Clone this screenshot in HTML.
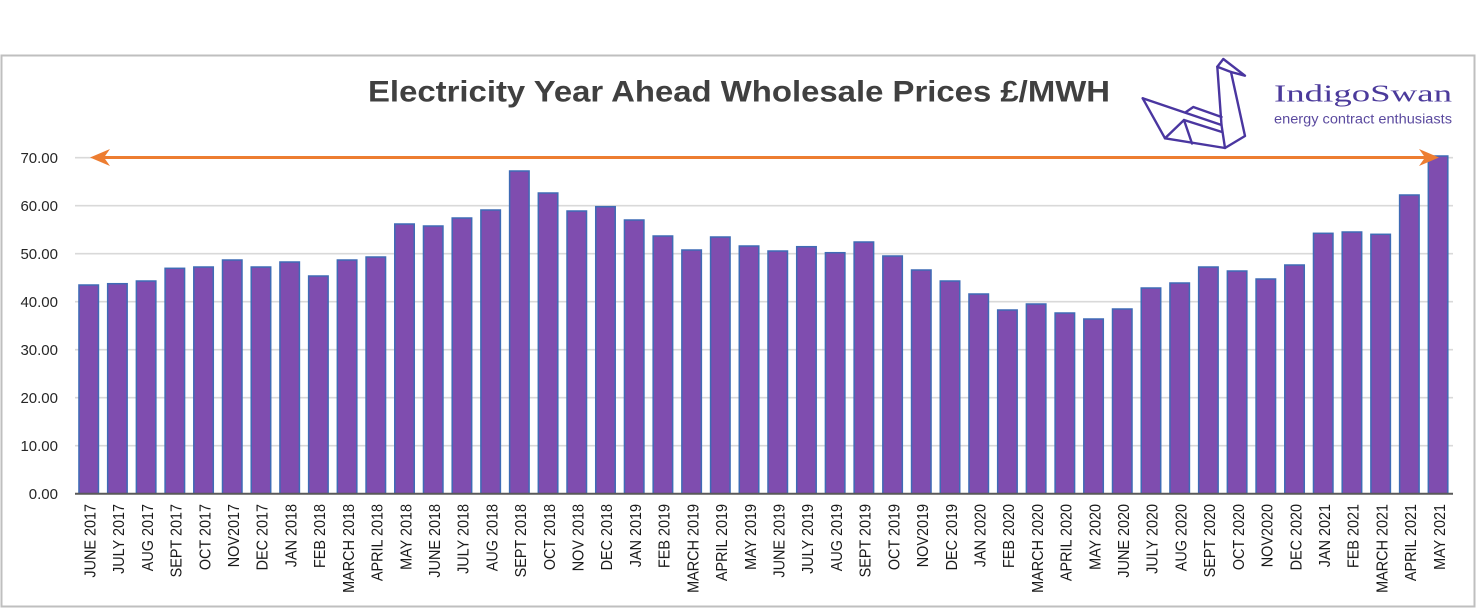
<!DOCTYPE html>
<html>
<head>
<meta charset="utf-8">
<style>
html,body{margin:0;padding:0;background:#fff;}
svg{display:block;}
</style>
</head>
<body>
<svg width="1477" height="610" viewBox="0 0 1477 610" xmlns="http://www.w3.org/2000/svg" font-family="Liberation Sans, Arial, sans-serif">
<rect x="0" y="0" width="1477" height="610" fill="#fff"/>
<rect x="1.5" y="55.5" width="1473" height="551" fill="#fff" stroke="#bfbfbf" stroke-width="2"/>

<!-- title -->
<text x="368" y="101.7" font-size="30" font-weight="bold" fill="#404040" textLength="742" lengthAdjust="spacingAndGlyphs">Electricity Year Ahead Wholesale Prices £/MWH</text>

<!-- logo -->
<g fill="none" stroke="#4A36A0" stroke-width="2.4" stroke-linejoin="round" stroke-linecap="round">
<path d="M1142.7,98.3 L1165,138.3 L1225,148 L1245,136 L1231,72"/>
<path d="M1217.3,66.7 L1223.3,59 L1245,75.7 L1231,72 Z"/>
<path d="M1217.3,66.7 L1221.5,125 L1225,148"/>
<path d="M1142.7,98.3 L1221.5,125"/>
<path d="M1165,138.3 L1184,120 L1192,143.5"/>
<path d="M1184,120 L1222,132"/>
<path d="M1186,112 L1193.3,107 L1221.5,117"/>
</g>
<text x="1274" y="101.7" font-family="Liberation Serif, serif" font-size="24" fill="#4B3A9B" textLength="178" lengthAdjust="spacingAndGlyphs">IndigoSwan</text>
<text x="1274" y="123.5" font-size="13.5" fill="#5B4A9F" textLength="178" lengthAdjust="spacingAndGlyphs">energy contract enthusiasts</text>

<!-- gridlines -->
<g stroke="#d9d9d9" stroke-width="1.6">
<line x1="75" x2="1453" y1="157.7" y2="157.7"/>
<line x1="75" x2="1453" y1="205.7" y2="205.7"/>
<line x1="75" x2="1453" y1="253.7" y2="253.7"/>
<line x1="75" x2="1453" y1="301.7" y2="301.7"/>
<line x1="75" x2="1453" y1="349.7" y2="349.7"/>
<line x1="75" x2="1453" y1="397.7" y2="397.7"/>
<line x1="75" x2="1453" y1="445.7" y2="445.7"/>
</g>

<!-- y labels -->
<g font-size="15" fill="#262626" text-anchor="end">
<text x="58" y="163">70.00</text>
<text x="58" y="211">60.00</text>
<text x="58" y="259">50.00</text>
<text x="58" y="307">40.00</text>
<text x="58" y="355">30.00</text>
<text x="58" y="403">20.00</text>
<text x="58" y="451">10.00</text>
<text x="58" y="499">0.00</text>
</g>

<!-- bars -->
<g fill="#7F4DAF" stroke="#3F6BB5" stroke-width="1.5">
<rect x="78.95" y="285" width="19.5" height="208.7"/>
<rect x="107.66" y="283.7" width="19.5" height="210"/>
<rect x="136.37" y="281" width="19.5" height="212.7"/>
<rect x="165.08" y="268.3" width="19.5" height="225.4"/>
<rect x="193.79" y="267" width="19.5" height="226.7"/>
<rect x="222.5" y="260" width="19.5" height="233.7"/>
<rect x="251.21" y="267" width="19.5" height="226.7"/>
<rect x="279.92" y="262" width="19.5" height="231.7"/>
<rect x="308.63" y="276" width="19.5" height="217.7"/>
<rect x="337.34" y="260" width="19.5" height="233.7"/>
<rect x="366.05" y="257" width="19.5" height="236.7"/>
<rect x="394.76" y="224" width="19.5" height="269.7"/>
<rect x="423.47" y="226" width="19.5" height="267.7"/>
<rect x="452.18" y="218" width="19.5" height="275.7"/>
<rect x="480.89" y="210" width="19.5" height="283.7"/>
<rect x="509.6" y="171" width="19.5" height="322.7"/>
<rect x="538.31" y="193" width="19.5" height="300.7"/>
<rect x="567.02" y="211" width="19.5" height="282.7"/>
<rect x="595.73" y="206.7" width="19.5" height="287"/>
<rect x="624.44" y="220" width="19.5" height="273.7"/>
<rect x="653.15" y="236" width="19.5" height="257.7"/>
<rect x="681.86" y="250" width="19.5" height="243.7"/>
<rect x="710.57" y="237" width="19.5" height="256.7"/>
<rect x="739.28" y="246" width="19.5" height="247.7"/>
<rect x="767.99" y="251" width="19.5" height="242.7"/>
<rect x="796.7" y="246.7" width="19.5" height="247"/>
<rect x="825.41" y="252.7" width="19.5" height="241"/>
<rect x="854.12" y="242" width="19.5" height="251.7"/>
<rect x="882.83" y="256" width="19.5" height="237.7"/>
<rect x="911.54" y="270" width="19.5" height="223.7"/>
<rect x="940.25" y="281" width="19.5" height="212.7"/>
<rect x="968.96" y="294" width="19.5" height="199.7"/>
<rect x="997.67" y="310" width="19.5" height="183.7"/>
<rect x="1026.38" y="304" width="19.5" height="189.7"/>
<rect x="1055.09" y="313" width="19.5" height="180.7"/>
<rect x="1083.8" y="319" width="19.5" height="174.7"/>
<rect x="1112.51" y="309" width="19.5" height="184.7"/>
<rect x="1141.22" y="288" width="19.5" height="205.7"/>
<rect x="1169.93" y="283" width="19.5" height="210.7"/>
<rect x="1198.64" y="267" width="19.5" height="226.7"/>
<rect x="1227.35" y="271" width="19.5" height="222.7"/>
<rect x="1256.06" y="279" width="19.5" height="214.7"/>
<rect x="1284.77" y="265" width="19.5" height="228.7"/>
<rect x="1313.48" y="233.3" width="19.5" height="260.4"/>
<rect x="1342.19" y="232" width="19.5" height="261.7"/>
<rect x="1370.9" y="234.3" width="19.5" height="259.4"/>
<rect x="1399.61" y="195" width="19.5" height="298.7"/>
<rect x="1428.32" y="156" width="19.5" height="337.7"/>
</g>

<!-- axis line -->
<line x1="75" x2="1453" y1="493.7" y2="493.7" stroke="#595959" stroke-width="2"/>

<!-- arrow -->
<line x1="100" x2="1428" y1="157.5" y2="157.5" stroke="#ED7D31" stroke-width="3"/>
<polygon points="90,157.5 110,149 104,157.5 110,166" fill="#ED7D31"/>
<polygon points="1439,157.5 1419,149 1425,157.5 1419,166" fill="#ED7D31"/>

<!-- x labels -->
<g font-size="16" fill="#1a1a1a" text-anchor="end">
<text transform="translate(95.45,504) rotate(-90) scale(0.9,1)">JUNE 2017</text>
<text transform="translate(124.16,504) rotate(-90) scale(0.9,1)">JULY 2017</text>
<text transform="translate(152.87,504) rotate(-90) scale(0.9,1)">AUG 2017</text>
<text transform="translate(181.58,504) rotate(-90) scale(0.9,1)">SEPT 2017</text>
<text transform="translate(210.29,504) rotate(-90) scale(0.9,1)">OCT 2017</text>
<text transform="translate(239,504) rotate(-90) scale(0.9,1)">NOV2017</text>
<text transform="translate(267.71,504) rotate(-90) scale(0.9,1)">DEC 2017</text>
<text transform="translate(296.42,504) rotate(-90) scale(0.9,1)">JAN 2018</text>
<text transform="translate(325.13,504) rotate(-90) scale(0.9,1)">FEB 2018</text>
<text transform="translate(353.84,504) rotate(-90) scale(0.9,1)">MARCH 2018</text>
<text transform="translate(382.55,504) rotate(-90) scale(0.9,1)">APRIL 2018</text>
<text transform="translate(411.26,504) rotate(-90) scale(0.9,1)">MAY 2018</text>
<text transform="translate(439.97,504) rotate(-90) scale(0.9,1)">JUNE 2018</text>
<text transform="translate(468.68,504) rotate(-90) scale(0.9,1)">JULY 2018</text>
<text transform="translate(497.39,504) rotate(-90) scale(0.9,1)">AUG 2018</text>
<text transform="translate(526.1,504) rotate(-90) scale(0.9,1)">SEPT 2018</text>
<text transform="translate(554.81,504) rotate(-90) scale(0.9,1)">OCT 2018</text>
<text transform="translate(583.52,504) rotate(-90) scale(0.9,1)">NOV 2018</text>
<text transform="translate(612.23,504) rotate(-90) scale(0.9,1)">DEC 2018</text>
<text transform="translate(640.94,504) rotate(-90) scale(0.9,1)">JAN 2019</text>
<text transform="translate(669.65,504) rotate(-90) scale(0.9,1)">FEB 2019</text>
<text transform="translate(698.36,504) rotate(-90) scale(0.9,1)">MARCH 2019</text>
<text transform="translate(727.07,504) rotate(-90) scale(0.9,1)">APRIL 2019</text>
<text transform="translate(755.78,504) rotate(-90) scale(0.9,1)">MAY 2019</text>
<text transform="translate(784.49,504) rotate(-90) scale(0.9,1)">JUNE 2019</text>
<text transform="translate(813.2,504) rotate(-90) scale(0.9,1)">JULY 2019</text>
<text transform="translate(841.91,504) rotate(-90) scale(0.9,1)">AUG 2019</text>
<text transform="translate(870.62,504) rotate(-90) scale(0.9,1)">SEPT 2019</text>
<text transform="translate(899.33,504) rotate(-90) scale(0.9,1)">OCT 2019</text>
<text transform="translate(928.04,504) rotate(-90) scale(0.9,1)">NOV2019</text>
<text transform="translate(956.75,504) rotate(-90) scale(0.9,1)">DEC 2019</text>
<text transform="translate(985.46,504) rotate(-90) scale(0.9,1)">JAN 2020</text>
<text transform="translate(1014.17,504) rotate(-90) scale(0.9,1)">FEB 2020</text>
<text transform="translate(1042.88,504) rotate(-90) scale(0.9,1)">MARCH 2020</text>
<text transform="translate(1071.59,504) rotate(-90) scale(0.9,1)">APRIL 2020</text>
<text transform="translate(1100.3,504) rotate(-90) scale(0.9,1)">MAY 2020</text>
<text transform="translate(1129.01,504) rotate(-90) scale(0.9,1)">JUNE 2020</text>
<text transform="translate(1157.72,504) rotate(-90) scale(0.9,1)">JULY 2020</text>
<text transform="translate(1186.43,504) rotate(-90) scale(0.9,1)">AUG 2020</text>
<text transform="translate(1215.14,504) rotate(-90) scale(0.9,1)">SEPT 2020</text>
<text transform="translate(1243.85,504) rotate(-90) scale(0.9,1)">OCT 2020</text>
<text transform="translate(1272.56,504) rotate(-90) scale(0.9,1)">NOV2020</text>
<text transform="translate(1301.27,504) rotate(-90) scale(0.9,1)">DEC 2020</text>
<text transform="translate(1329.98,504) rotate(-90) scale(0.9,1)">JAN 2021</text>
<text transform="translate(1358.69,504) rotate(-90) scale(0.9,1)">FEB 2021</text>
<text transform="translate(1387.4,504) rotate(-90) scale(0.9,1)">MARCH 2021</text>
<text transform="translate(1416.11,504) rotate(-90) scale(0.9,1)">APRIL 2021</text>
<text transform="translate(1444.82,504) rotate(-90) scale(0.9,1)">MAY 2021</text>
</g>
</svg>
</body>
</html>
